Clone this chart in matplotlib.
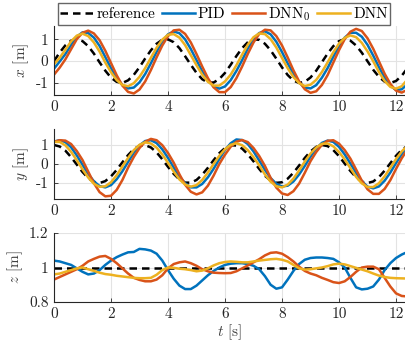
import numpy as np
import matplotlib
matplotlib.use("Agg")
import matplotlib.pyplot as plt

plt.rcParams['font.family'] = 'cmr10'
plt.rcParams['mathtext.fontset'] = 'cm'
plt.rcParams['axes.unicode_minus'] = False
plt.rcParams['font.size'] = 11

# sample times [s]
t = np.round(np.arange(63) * 0.2, 1)

x_ref = [0.00, 0.39, 0.72, 0.93, 1.00, 0.91, 0.68, 0.34, -0.06, -0.44,
         -0.76, -0.95, -1.00, -0.88, -0.63, -0.28, 0.12, 0.49, 0.79, 0.97,
         0.99, 0.86, 0.59, 0.22, -0.17, -0.54, -0.83, -0.98, -0.98, -0.82,
         -0.54, -0.17, 0.23, 0.59, 0.86, 0.99, 0.97, 0.79, 0.49, 0.11,
         -0.29, -0.64, -0.89, -1.00, -0.95, -0.75, -0.44, -0.05, 0.34, 0.68,
         0.91, 1.00, 0.93, 0.71, 0.38, -0.01, -0.40, -0.72, -0.94, -1.00,
         -0.91, -0.67, -0.33]
x_pid = [-0.35, -0.02, 0.32, 0.74, 1.11, 1.31, 1.28, 1.07, 0.69, 0.18,
         -0.33, -0.77, -1.10, -1.25, -1.21, -0.97, -0.59, -0.10, 0.42, 0.89,
         1.22, 1.35, 1.27, 0.99, 0.55, 0.04, -0.47, -0.88, -1.16, -1.26,
         -1.16, -0.87, -0.45, 0.04, 0.57, 1.01, 1.28, 1.36, 1.22, 0.88,
         0.41, -0.11, -0.59, -0.98, -1.21, -1.25, -1.10, -0.76, -0.32, 0.20,
         0.69, 1.07, 1.29, 1.29, 1.11, 0.74, 0.25, -0.28, -0.76, -1.13,
         -1.32, -1.29, -1.06]
x_dnn0 = [-0.62, -0.30, 0.08, 0.54, 1.00, 1.29, 1.39, 1.26, 0.95, 0.47,
          -0.09, -0.65, -1.12, -1.41, -1.48, -1.30, -0.93, -0.41, 0.17, 0.71,
          1.14, 1.40, 1.43, 1.24, 0.85, 0.32, -0.25, -0.78, -1.20, -1.42,
          -1.42, -1.19, -0.78, -0.25, 0.33, 0.85, 1.24, 1.43, 1.40, 1.14,
          0.71, 0.16, -0.42, -0.93, -1.29, -1.45, -1.38, -1.09, -0.64, -0.07,
          0.50, 1.00, 1.34, 1.47, 1.37, 1.04, 0.56, -0.01, -0.58, -1.04,
          -1.35, -1.44, -1.31]
x_dnn = [-0.15, 0.15, 0.52, 0.90, 1.16, 1.25, 1.14, 0.85, 0.43, -0.07,
         -0.51, -0.87, -1.09, -1.15, -1.01, -0.72, -0.32, 0.15, 0.61, 0.98,
         1.20, 1.23, 1.07, 0.73, 0.27, -0.19, -0.62, -0.95, -1.12, -1.12,
         -0.93, -0.62, -0.19, 0.29, 0.75, 1.09, 1.26, 1.23, 1.00, 0.62,
         0.14, -0.33, -0.73, -1.01, -1.14, -1.08, -0.86, -0.50, -0.06, 0.40,
         0.80, 1.06, 1.17, 1.09, 0.83, 0.44, -0.01, -0.50, -0.91, -1.18,
         -1.26, -1.15, -0.84]

y_ref = [1.00, 0.92, 0.70, 0.36, -0.03, -0.42, -0.74, -0.94, -1.00, -0.90,
         -0.65, -0.31, 0.09, 0.47, 0.78, 0.96, 0.99, 0.87, 0.61, 0.25,
         -0.15, -0.52, -0.81, -0.98, -0.98, -0.84, -0.56, -0.20, 0.20, 0.57,
         0.84, 0.99, 0.97, 0.81, 0.51, 0.14, -0.26, -0.62, -0.87, -0.99,
         -0.96, -0.77, -0.46, -0.08, 0.32, 0.66, 0.90, 1.00, 0.94, 0.73,
         0.41, 0.02, -0.37, -0.70, -0.93, -1.00, -0.92, -0.69, -0.35, 0.04,
         0.43, 0.74, 0.95]
y_pid = [1.18, 1.25, 1.15, 0.88, 0.45, -0.04, -0.52, -0.91, -1.16, -1.23,
         -1.11, -0.80, -0.38, 0.11, 0.59, 0.98, 1.21, 1.25, 1.10, 0.77,
         0.32, -0.19, -0.65, -1.01, -1.23, -1.23, -1.05, -0.70, -0.25, 0.26,
         0.74, 1.09, 1.29, 1.26, 1.05, 0.66, 0.18, -0.31, -0.74, -1.04,
         -1.18, -1.14, -0.92, -0.55, -0.10, 0.39, 0.81, 1.11, 1.23, 1.16,
         0.90, 0.50, 0.02, -0.47, -0.90, -1.19, -1.28, -1.18, -0.88, -0.45,
         0.05, 0.52, 0.85]
y_dnn0 = [1.17, 1.25, 1.23, 1.05, 0.68, 0.21, -0.40, -1.01, -1.48, -1.70,
          -1.67, -1.36, -0.84, -0.19, 0.37, 0.84, 1.17, 1.32, 1.25, 0.99,
          0.58, 0.07, -0.54, -1.09, -1.46, -1.60, -1.49, -1.14, -0.61, 0.00,
          0.49, 0.91, 1.17, 1.26, 1.15, 0.84, 0.42, -0.10, -0.73, -1.24,
          -1.55, -1.63, -1.43, -1.03, -0.46, 0.15, 0.63, 1.01, 1.22, 1.25,
          1.07, 0.73, 0.28, -0.29, -0.88, -1.33, -1.57, -1.57, -1.31, -0.85,
          -0.26, 0.30, 0.76]
y_dnn = [1.16, 1.16, 0.98, 0.64, 0.20, -0.28, -0.71, -1.04, -1.20, -1.17,
         -0.96, -0.59, -0.13, 0.32, 0.73, 1.01, 1.14, 1.08, 0.86, 0.50,
         0.06, -0.40, -0.81, -1.08, -1.19, -1.11, -0.84, -0.45, 0.00, 0.43,
         0.78, 1.01, 1.09, 0.99, 0.73, 0.36, -0.07, -0.55, -0.93, -1.17,
         -1.23, -1.08, -0.77, -0.34, 0.13, 0.55, 0.87, 1.06, 1.08, 0.93,
         0.63, 0.24, -0.22, -0.68, -1.02, -1.21, -1.21, -1.01, -0.65, -0.20,
         0.26, 0.66, 0.95]

t_ends = [0.0, 12.4]
z_ref = [1.0, 1.0]
z_pid = [1.04, 1.035, 1.025, 1.015, 0.995, 0.975, 0.96, 0.965, 0.985, 1.015,
         1.04, 1.06, 1.075, 1.088, 1.09, 1.108, 1.105, 1.098, 1.08, 1.04,
         0.985, 0.935, 0.895, 0.875, 0.875, 0.895, 0.925, 0.955, 0.98, 1.0,
         1.015, 1.022, 1.025, 1.025, 1.02, 1.01, 0.99, 0.95, 0.9, 0.877,
         0.885, 0.93, 0.98, 1.02, 1.045, 1.055, 1.058, 1.058, 1.055, 1.05,
         1.03, 1.0, 0.94, 0.885, 0.873, 0.877, 0.89, 0.93, 0.985, 1.025,
         1.055, 1.075, 1.09]
z_dnn0 = [0.93, 0.945, 0.96, 0.975, 0.99, 1.01, 1.035, 1.05, 1.063, 1.067,
          1.05, 1.025, 0.995, 0.965, 0.94, 0.928, 0.92, 0.92, 0.93, 0.955,
          0.995, 1.02, 1.03, 1.035, 1.025, 1.01, 0.99, 0.978, 0.97, 0.968,
          0.967, 0.968, 0.978, 0.995, 1.012, 1.03, 1.048, 1.07, 1.085, 1.088,
          1.08, 1.06, 1.035, 1.005, 0.98, 0.965, 0.955, 0.94, 0.928, 0.915,
          0.91, 0.92, 0.945, 0.975, 1.0, 1.005, 1.005, 0.99, 0.94, 0.89,
          0.85, 0.835, 0.832]
z_dnn = [0.96, 0.965, 0.975, 0.985, 0.995, 1.0, 0.99, 0.98, 0.97, 0.962,
         0.958, 0.952, 0.948, 0.944, 0.94, 0.938, 0.938, 0.94, 0.958, 0.985,
         1.0, 0.998, 0.993, 0.99, 0.985, 0.978, 0.982, 0.995, 1.012, 1.025,
         1.032, 1.035, 1.033, 1.03, 1.03, 1.035, 1.04, 1.044, 1.048, 1.05,
         1.045, 1.035, 1.015, 0.995, 0.988, 0.99, 0.995, 1.0, 1.008, 1.018,
         1.022, 1.018, 1.008, 0.998, 0.988, 0.978, 0.965, 0.953, 0.945, 0.94,
         0.938, 0.937, 0.936]

labels = ['reference', 'PID', r'DNN$_0$', 'DNN']
colors = ['black', '#0072BD', '#D95319', '#EDB120']
xticks = [0, 2, 4, 6, 8, 10, 12]

W, H = 406, 347
fig = plt.figure(figsize=(W / 100, H / 100), dpi=100)


def make_axes(top, bottom):
    return fig.add_axes([54 / W, 1 - bottom / H, 1 - 54 / W, (bottom - top) / H])


ax1 = make_axes(26, 95)
ax2 = make_axes(129, 199)
ax3 = make_axes(233, 302)

panels = [
    (ax1, t, [x_ref, x_pid, x_dnn0, x_dnn], (-1.55, 1.6), [-1, 0, 1], ['-1', '0', '1'], r'$x$ [m]'),
    (ax2, t, [y_ref, y_pid, y_dnn0, y_dnn], (-1.84, 1.84), [-1, 0, 1], ['-1', '0', '1'], r'$y$ [m]'),
    (ax3, None, [z_ref, z_pid, z_dnn0, z_dnn], (0.8, 1.2), [0.8, 1.0, 1.2], ['0.8', '1', '1.2'], r'$z$ [m]'),
]

for ax, tt, series, ylim, yt, ytl, ylab in panels:
    for i, (vals, lab, col) in enumerate(zip(series, labels, colors)):
        xs = tt if tt is not None else (t_ends if i == 0 else t)
        if i == 0:
            ax.plot(xs, vals, color=col, lw=1.8, dashes=(3.0, 2.0), label=lab)
        else:
            ax.plot(xs, vals, color=col, lw=1.8, label=lab)
    ax.set_xlim(0, 12.35)
    ax.set_ylim(*ylim)
    ax.set_xticks(xticks)
    ax.set_xticklabels([str(v) for v in xticks])
    ax.set_yticks(yt)
    ax.set_yticklabels(ytl)
    ax.set_ylabel(ylab, color='#404040', labelpad=3)
    ax.grid(True, color='#e3e3e3', lw=0.8)
    ax.set_axisbelow(True)
    for s in ['top', 'right']:
        ax.spines[s].set_visible(False)
    for s in ['left', 'bottom']:
        ax.spines[s].set_color('#262626')
        ax.spines[s].set_linewidth(0.8)
    ax.tick_params(direction='in', length=3, width=0.6, colors='#262626',
                   labelsize=11, pad=4)

ax3.set_xlabel(r'$t$ [s]', color='#404040', labelpad=1)

handles, labs = ax1.get_legend_handles_labels()
fig.legend(handles, labs, loc='upper center', bbox_to_anchor=(224 / W, 1 - 3 / H),
           ncol=4, frameon=True, fancybox=False, edgecolor='#404040',
           handlelength=2.15, handletextpad=0.2, columnspacing=0.45,
           borderpad=0.15, borderaxespad=0, fontsize=11)

fig.savefig('out.png', dpi=100)
